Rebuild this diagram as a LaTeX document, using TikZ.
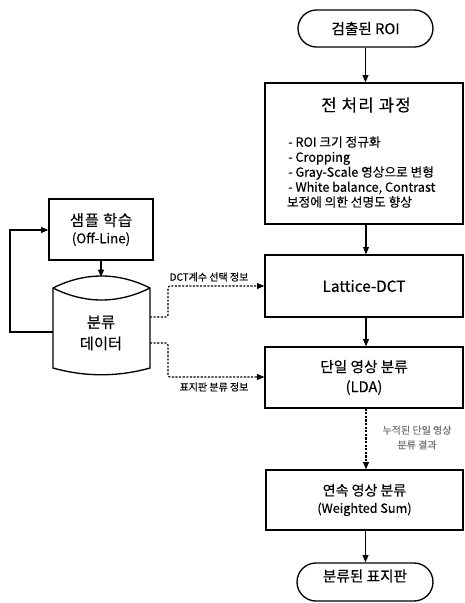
\documentclass[tikz,border=0pt]{standalone}
\usepackage{fontspec}
\setmainfont{Noto Sans CJK KR}[FakeBold=0.3]
\usetikzlibrary{arrows.meta,shapes.misc}
\begin{document}
\begin{tikzpicture}[x=0.75pt,y=-0.75pt,
  box/.style={draw, line width=1pt, rectangle, inner sep=0pt, align=center},
  stadium/.style={draw, line width=1pt, rounded rectangle, inner sep=0pt},
  arr/.style={line width=0.8pt, -{Triangle[length=5.5pt,width=4.5pt]}},
  darr/.style={line width=0.8pt, dash pattern=on 1.6pt off 1.1pt, rounded corners=1.5pt, -{Triangle[length=5.5pt,width=4.5pt]}},
  lbl/.style={font=\fontsize{7.5}{9}\selectfont, inner sep=0pt, align=center},
]
\useasboundingbox (0,0) rectangle (464,603);

% main column
\node[stadium, minimum width=101.25pt, minimum height=27.75pt, font=\fontsize{11}{13}\selectfont] (top) at (365.5,28.5) {검출된 ROI};
\node[box, minimum width=148.5pt, minimum height=105.75pt] (pre) at (364,153.5) {};
\node[font=\fontsize{12.5}{15}\selectfont\addfontfeature{LetterSpace=8}, inner sep=0pt] (pretitle) at (366,105) {전 처리 과정};
\node[font=\fontsize{9.5}{11.25}\selectfont, inner sep=0pt, align=left, anchor=north west] (prelist) at (288,136)
  {- ROI 크기 정규화\\- Cropping\\- Gray-Scale 영상으로 변형\\- White balance, Contrast\\\hspace{-1pt}보정에 의한 선명도 향상};
\node[box, minimum width=148.5pt, minimum height=46.5pt, font=\fontsize{11.5}{14}\selectfont] (lat) at (364,286) {Lattice-DCT};
\node[box, minimum width=148.5pt, minimum height=45.75pt, font=\fontsize{11}{15}\selectfont] (lda) at (364,377.5) {단일 영상 분류\\(LDA)};
\node[box, minimum width=147.75pt, minimum height=45pt] (wsum) at (364.5,500)
  {{\fontsize{10.5}{13}\selectfont 연속 영상 분류}\\[1pt]{\fontsize{9.5}{12}\selectfont (Weighted Sum)}};
\node[stadium, minimum width=102pt, minimum height=28.5pt] (fin) at (365,582) {};
\node[font=\fontsize{11}{13}\selectfont, inner sep=0pt] (fintxt) at (365,576) {분류된 표지판};

% left side
\node[box, minimum width=78pt, minimum height=45.75pt] (sample) at (101,229.5)
  {{\fontsize{11.5}{14}\selectfont\addfontfeature{LetterSpace=5} 샘플 학습}\\[1pt]{\fontsize{10}{12}\selectfont (Off-Line)}};
\draw[line width=1pt] (53,288) .. controls (85,272) and (118,272) .. (150,288)
  -- (150,368) .. controls (118,377) and (85,377) .. (53,368) -- cycle;
\draw[line width=1pt] (53,288) .. controls (85,304) and (118,304) .. (150,288);
\node[font=\fontsize{11.5}{16}\selectfont, inner sep=0pt, align=center] (db) at (101,333) {분류\\데이터};
\coordinate (dbtop) at (101,277);
\coordinate (dbL) at (53,332);
\coordinate (dbR1) at (150,317);
\coordinate (dbR2) at (150,343);

% connectors
\draw[arr] (top.south) -- (top.south |- pre.north);
\draw[arr] (pre.south) ++(2,0) coordinate (p1) -- (p1 |- lat.north);
\draw[arr] (lat.south) ++(2,0) coordinate (p2) -- (p2 |- lda.north);
\draw[darr, rounded corners=0pt] (lda.south) ++(2,0) coordinate (p3) -- (p3 |- wsum.north);
\draw[arr] (wsum.south) ++(1,0) coordinate (p4) -- (p4 |- fin.north);
\draw[arr] (sample.south) -- (dbtop);
\draw[arr] (dbL) -- (10,332) -- (10,230) -- (sample.west |- 0,230);
\draw[darr] (dbR1) -- (168,317) -- (168,286) -- (lat.west);
\draw[darr] (dbR2) -- (168,343) -- (168,377) -- (lda.west |- 0,377);

% labels
\node[lbl] (l1) at (209,277) {DCT계수 선택 정보};
\node[lbl] (l2) at (214,387) {표지판 분류 정보};
\node[lbl, text=black!55, font=\fontsize{7.5}{11}\selectfont] (l3) at (417,437.5) {누적된 단일 영상\\분류 결과};
\end{tikzpicture}
\end{document}
